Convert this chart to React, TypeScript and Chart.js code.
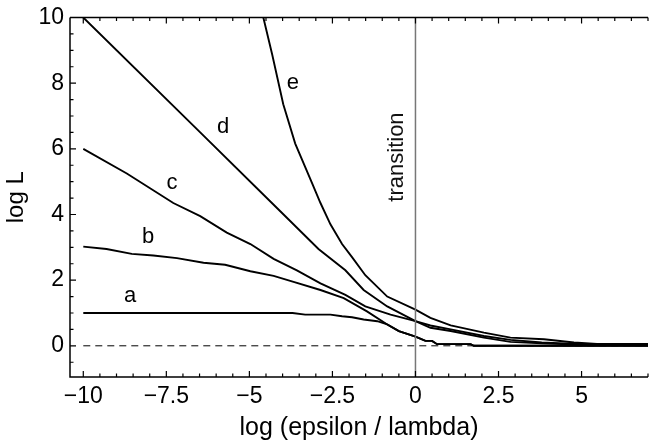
import React, { useEffect, useRef } from "react";
import { Chart, registerables } from "chart.js";

Chart.register(...registerables);

// ---- data ----
const aX = [-10, -3.7, -3.32, -2.56, -2.21, -1.91, -1.56, -1.15, -0.85, -0.5, 0, 0.3, 0.5, 0.65, 1.66, 1.76, 7];
const aY = [1.0, 1.0, 0.95, 0.95, 0.9, 0.87, 0.8, 0.75, 0.65, 0.45, 0.28, 0.15, 0.15, 0.05, 0.05, 0, 0];

const bX = [-10, -9.3, -8.54, -7.89, -7.18, -6.38, -5.73, -4.97, -4.27, -3.67, -2.86, -2.16, -1.46, -0.85, -0.5, 0, 0.3, 0.5, 0.65, 1.66, 1.76, 7];
const bY = [3.02, 2.95, 2.8, 2.75, 2.67, 2.53, 2.47, 2.27, 2.13, 1.95, 1.7, 1.45, 1.05, 0.65, 0.45, 0.28, 0.15, 0.15, 0.05, 0.05, 0, 0];

const cX = [-10, -8.69, -7.29, -6.48, -5.68, -4.97, -4.27, -3.57, -2.86, -2.11, -1.51, -0.75, 0, 0.45, 1.06, 2.06, 2.86, 3.8, 4.8, 7];
const cY = [6.0, 5.25, 4.35, 3.95, 3.45, 3.1, 2.65, 2.3, 1.9, 1.55, 1.2, 0.95, 0.75, 0.62, 0.5, 0.3, 0.18, 0.1, 0.06, 0.06];

const dX = [-10, -6.48, -4.07, -2.92, -2.11, -1.56, -0.85, 0, 0.45, 1.06, 2.06, 2.86, 3.8, 4.8, 7];
const dY = [10, 6.5, 4.1, 2.95, 2.3, 1.7, 1.2, 0.75, 0.55, 0.45, 0.25, 0.12, 0.08, 0.04, 0.03];

const eX = [-4.58, -4.31, -3.98, -3.62, -3.11, -2.86, -2.56, -2.21, -1.91, -1.51, -0.85, 0, 0.45, 1.06, 2.06, 2.86, 3.87, 4.77, 5.58, 7];
const eY = [10, 8.86, 7.36, 6.16, 4.95, 4.35, 3.7, 3.1, 2.7, 2.15, 1.5, 1.1, 0.85, 0.62, 0.4, 0.25, 0.2, 0.1, 0.05, 0.04];

const zeroLineX = [-10, 7];
const zeroLineY = [0, 0];
const transitionX = [0, 0];
const transitionY = [-0.95, 10];

const xTickLabels = [-10, -7.5, -5, -2.5, 0, 2.5, 5];
const yTickLabels = [0, 2, 4, 6, 8, 10];

const curveNames = ["a", "b", "c", "d", "e"];
const curveLabelX = [-8.59, -8.05, -7.33, -5.79, -3.69];
const curveLabelY = [1.51, 3.31, 4.96, 6.67, 8.02];

const transitionText = "transition";
const transitionTextAt = [-0.37, 5.75];

const X_MIN = -10.4;
const X_MAX = 7;
const Y_MIN = -0.95;
const Y_MAX = 10;

const FONT = '"Liberation Sans", Arial, Helvetica, sans-serif';

const pts = (xs: number[], ys: number[]) => xs.map((x, i) => ({ x, y: ys[i] }));

const fmt = (v: number) => {
  const s = String(Math.abs(v));
  return v < 0 ? "\u2212" + s : s;
};

const framePlugin = {
  id: "frame",
  afterDatasetsDraw(chart: any) {
    const ctx = chart.ctx;
    const xs = chart.scales.x;
    const ys = chart.scales.y;
    const { left, right, top, bottom } = chart.chartArea;
    ctx.save();
    ctx.strokeStyle = "#000";
    ctx.lineWidth = 1.5;
    ctx.beginPath();
    ctx.moveTo(left, top);
    ctx.lineTo(left, bottom);
    ctx.lineTo(right, bottom);
    ctx.moveTo(left, top);
    ctx.lineTo(right, top);
    ctx.stroke();

    ctx.lineWidth = 1.2;
    ctx.beginPath();
    for (let k = -20; k <= 14; k++) {
      const v = k * 0.5;
      const px = xs.getPixelForValue(v);
      const major = k % 5 === 0;
      const len = major ? 6 : 3.5;
      ctx.moveTo(px, bottom);
      ctx.lineTo(px, bottom - len);
      ctx.moveTo(px, top);
      ctx.lineTo(px, top + len);
    }
    for (let k = -1; k <= 20; k++) {
      const v = k * 0.5;
      const py = ys.getPixelForValue(v);
      const major = k % 4 === 0;
      const len = major ? 6 : 3.5;
      ctx.moveTo(left, py);
      ctx.lineTo(left + len, py);
    }
    ctx.stroke();

    // curve labels
    ctx.fillStyle = "#000";
    ctx.font = `22px ${FONT}`;
    ctx.textAlign = "center";
    ctx.textBaseline = "middle";
    curveNames.forEach((n, i) => {
      ctx.fillText(n, xs.getPixelForValue(curveLabelX[i]), ys.getPixelForValue(curveLabelY[i]));
    });

    // transition text
    ctx.translate(xs.getPixelForValue(transitionTextAt[0]), ys.getPixelForValue(transitionTextAt[1]));
    ctx.rotate(-Math.PI / 2);
    ctx.textBaseline = "alphabetic";
    ctx.fillStyle = "#111";
    ctx.fillText(transitionText, 0, 0);
    ctx.restore();
  },
};

export default function App() {
  const ref = useRef<HTMLCanvasElement | null>(null);

  useEffect(() => {
    document.body.style.margin = "0";
    const canvas = ref.current;
    if (!canvas) return;
    const line = (data: any[], extra: any = {}) => ({
      data,
      showLine: true,
      borderColor: "#000",
      backgroundColor: "#000",
      borderWidth: 1.9,
      pointRadius: 0,
      pointHoverRadius: 0,
      fill: false,
      tension: 0,
      ...extra,
    });
    const chart = new Chart(canvas, {
      type: "scatter",
      data: {
        datasets: [
          line(pts(transitionX, transitionY), { borderColor: "#777", borderWidth: 1.5, label: "transition" }),
          line(pts(zeroLineX, zeroLineY), { borderWidth: 1, borderDash: [7, 5], label: "zero" }),
          line(pts(aX, aY), { label: "a" }),
          line(pts(bX, bY), { label: "b" }),
          line(pts(cX, cY), { label: "c" }),
          line(pts(dX, dY), { label: "d" }),
          line(pts(eX, eY), { label: "e" }),
        ],
      },
      options: {
        responsive: false,
        animation: false,
        events: [],
        layout: { padding: { left: 0, right: 8, top: 12, bottom: 0 } },
        plugins: { legend: { display: false }, tooltip: { enabled: false } },
        scales: {
          x: {
            type: "linear",
            min: X_MIN,
            max: X_MAX,
            afterBuildTicks: (s: any) => {
              s.ticks = xTickLabels.map((v) => ({ value: v }));
            },
            afterFit: (s: any) => {
              s.height = 71;
            },
            grid: { display: false, drawTicks: false },
            border: { display: false },
            ticks: {
              autoSkip: false,
              maxRotation: 0,
              padding: 8,
              color: "#000",
              font: { family: FONT, size: 23, lineHeight: 1 },
              callback: (v: any) => fmt(Number(v)),
            },
            title: {
              display: true,
              text: "log (epsilon / lambda)",
              color: "#000",
              font: { family: FONT, size: 25 },
              padding: { top: 0, bottom: 5 },
            },
          },
          y: {
            type: "linear",
            min: Y_MIN,
            max: Y_MAX,
            afterBuildTicks: (s: any) => {
              s.ticks = yTickLabels.map((v) => ({ value: v }));
            },
            afterFit: (s: any) => {
              s.width = 70;
            },
            grid: { display: false, drawTicks: false },
            border: { display: false },
            ticks: {
              autoSkip: false,
              padding: 6,
              color: "#000",
              font: { family: FONT, size: 23, lineHeight: 1 },
              callback: (v: any) => fmt(Number(v)),
            },
            title: {
              display: true,
              text: "log L",
              color: "#000",
              font: { family: FONT, size: 24 },
              padding: { top: 2, bottom: 0 },
            },
          },
        },
      },
      plugins: [framePlugin],
    } as any);
    return () => chart.destroy();
  }, []);

  return (
    <div style={{ position: "absolute", left: 0, top: 0, width: 656, height: 448, background: "#fff" }}>
      <canvas ref={ref} width={656} height={448} style={{ display: "block" }} />
    </div>
  );
}
